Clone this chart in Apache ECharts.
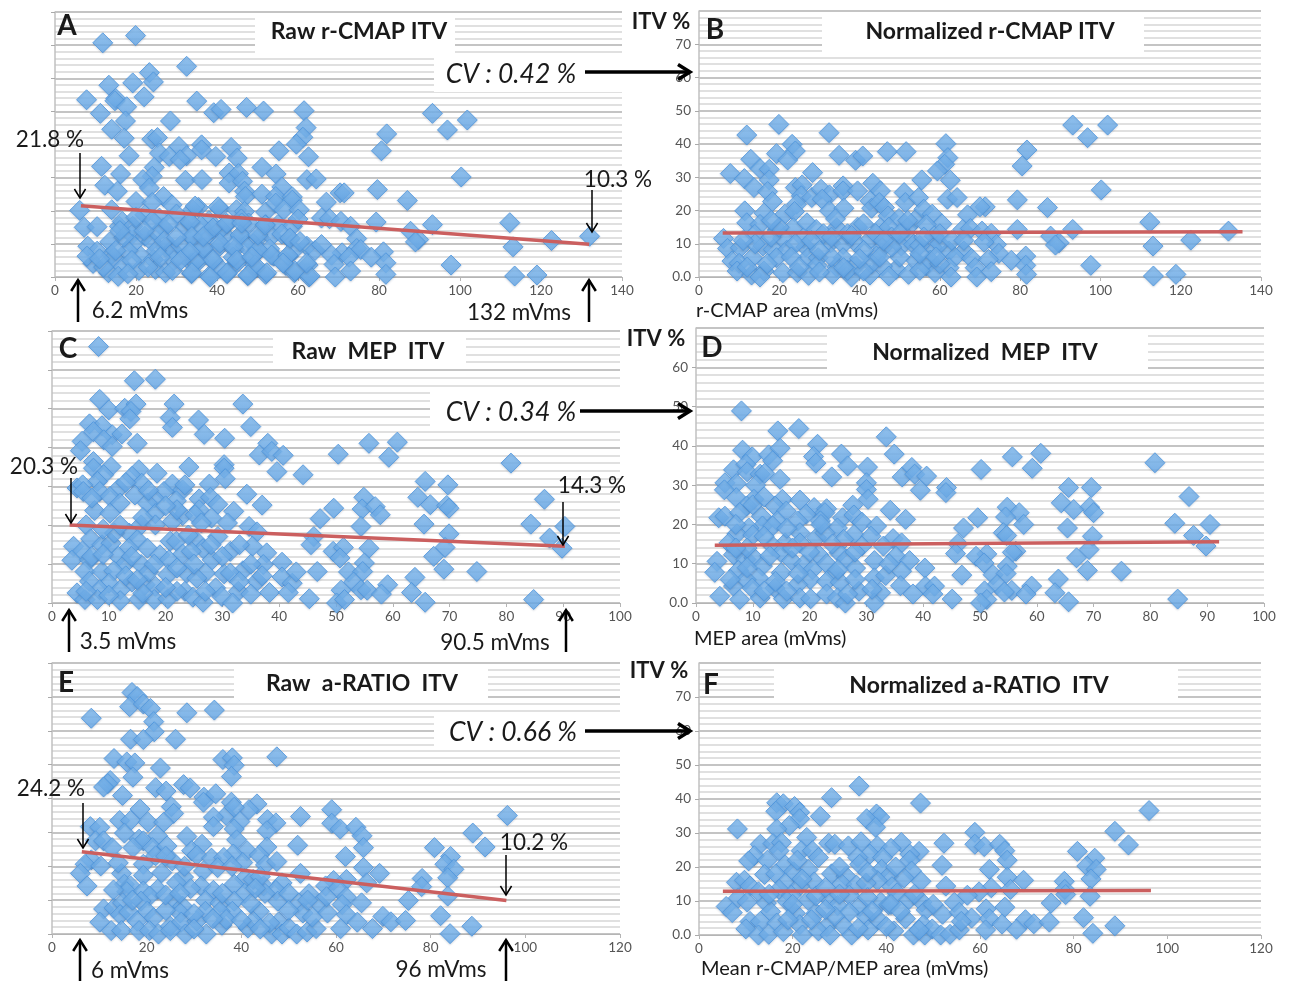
<!DOCTYPE html>
<html><head><meta charset="utf-8">
<style>html,body{margin:0;padding:0;background:#fff}#c{width:1292px;height:981px}</style>
<script src="https://cdn.jsdelivr.net/npm/echarts@6/dist/echarts.min.js"></script>
</head><body><div id="c"></div>
<script>
// Estimated values: [area (mVms), ITV %]
const pointsA=[[11.8,70.7],[19.9,72.9],[32.5,63.6],[23.3,61.7],[24.3,58.9],[19.2,58.6],[13.3,57.9],[22,54.4],[7.8,53.5],[15,53.9],[14.8,53.2],[17.7,51.4],[35,53.1],[11.2,49.4],[39.2,49.6],[41,50.6],[47.3,51.2],[51.5,50.1],[61.5,50.2],[93.2,49.4],[101.8,47.4],[96.9,44.4],[17.4,47.1],[28.5,47.1],[62,45.1],[14,44.6],[17.1,41.9],[23.9,41.6],[25.3,42.1],[61.2,42.2],[59.6,40.1],[81.9,43.2],[80.6,38.1],[30.6,39.4],[36.2,39.9],[36.2,38.4],[43.5,39.1],[55.3,38.1],[62.6,36.3],[25.8,37.4],[28.2,36.4],[32.5,36.6],[30.9,35.4],[39.7,36.4],[45,35.9],[18.3,36.6],[11.5,33.4],[24.5,33.1],[16.2,31.1],[51.1,33.1],[54.6,31.1],[43,31.4],[45.3,31.2],[24,30.4],[21.7,29.4],[32.2,29.2],[36.3,29.4],[43,28.4],[46.3,28.9],[62.2,29.4],[64.5,29.6],[100.3,30.2],[12.3,27.7],[23.3,26.9],[15.4,25.9],[56,27.2],[79.6,26.4],[46.8,25.9],[47,24.3],[51.1,25],[70.4,25.4],[71.4,25.4],[26.8,24.3],[54.5,24.3],[87,23.1],[67,22.6],[58.6,24.2],[58.6,23.2],[20,22.8],[24,22.5],[28.9,21.8],[35.4,21],[34,20.3],[40.7,20.6],[44.8,20.3],[46.8,19.8],[52,19.6],[54.5,22.3],[56.5,20.3],[60.3,20.3],[14,20.3],[6.1,20.1],[7.2,15],[10.4,15.2],[15.9,15.3],[16.6,16.8],[19.2,15.3],[22.2,18.8],[25.8,17.8],[26.8,14.8],[32,15.3],[33.5,16.3],[38.6,14.3],[42.5,16],[47.8,16.3],[52,15.8],[55,15.8],[58.6,15.3],[65.8,17.8],[67.8,17.6],[70.6,16.8],[73,15.3],[79.3,16.6],[93.2,15.8],[112.3,16.4],[13.5,10.6],[19,12.8],[22.2,12.3],[23.8,10.8],[25.3,13.3],[34,11.8],[37.3,12],[45.8,12.3],[50.4,12],[53.5,12.3],[58,11.5],[74.5,11.6],[87.8,13.8],[89.8,11.3],[89,10.6],[122.6,11],[132,12.3],[8.1,9.3],[10.4,7.8],[19.2,9.8],[27.3,9],[28.9,8.3],[36.6,8.3],[40.7,9.3],[44.3,8.3],[50.1,7.8],[54,6.3],[57.6,6.3],[62.2,9.3],[64.2,8],[65.8,9.8],[70.9,7.3],[74.5,8.6],[75.5,8.3],[81.1,7.6],[113.1,9.1],[68.3,6.6],[72.6,6],[78.1,6],[14,6.8],[21.2,6.3],[9.4,4.1],[7.9,6.3],[14.5,5.8],[16.8,3.1],[24.3,5.3],[29.4,5],[33.7,4.3],[39.1,4.8],[45,4.3],[48.4,5.8],[57,3.5],[62.5,3.6],[68.9,3.8],[81.7,4.3],[97.8,3.6],[35.5,4.8],[13.2,1.3],[15.6,0.2],[20.7,2],[24.8,2.3],[27.3,1.3],[33.7,1],[38.1,0.4],[42.5,1],[47.6,0.4],[52,0.8],[59.1,1.3],[62.7,0],[69.2,0],[73,1.8],[81.7,0.8],[113.5,0.3],[119,0.6],[49.4,2.8],[40.7,2.8],[18,8],[24,17],[31,9.5],[33,7],[38,17],[42,12.5],[46,17.5],[49,10],[53,8.5],[56,13],[60,17.5],[17,12],[30,19],[36,15.5],[44,6],[47,9.5],[41,14.5],[59,8],[34.6,21.4],[40.3,21.2],[33.3,16.7],[39,14.8],[42.4,16.2],[45.7,12.7],[33.8,12.2],[40.7,10.2],[36.6,8.7],[44,9.2],[50.1,8.2],[53.5,6.6],[57.5,6.6],[39,5.1],[34.6,4.6],[33.3,7.6],[44.9,5.1],[49.4,3.6],[42.4,1.2],[38.3,0],[33.8,1.3],[47.7,0.6],[52.3,1.3],[59.3,1.8],[63,0.3],[62.1,4.2],[58,11.8],[50.1,12.7],[60.5,10.7],[51.9,15.7],[46.1,16.3],[36.6,12.2],[48.6,6.1],[56.3,4.2],[12,3],[15,8],[19,5],[23,3],[25,8],[27,11],[29,2],[31,5],[18,1],[22,14],[26,6],[11,5.5],[16,14],[20,18],[28,16],[30,12]];
const pointsB=[[19.9,45.9],[11.9,42.7],[32.4,43.4],[23.2,39.9],[24,37.9],[19.3,37.1],[22.1,35.2],[12.9,35.4],[15.2,32.6],[17.5,32.4],[7.8,31.1],[17.5,29.2],[11.3,29.6],[28.3,31.4],[34.9,36.6],[39,35.1],[40.8,36.4],[46.9,37.7],[51.6,37.7],[61.5,40.1],[62,35.9],[61.2,33.9],[59.4,31.9],[62.6,29.1],[55.5,29.2],[93.1,45.7],[101.8,45.7],[96.8,41.9],[81.7,38.2],[80.5,33.4],[100.2,26.2],[13.7,26.9],[17.1,25.7],[18.3,22.7],[24,26.9],[25.7,27.7],[25.5,24.4],[28.1,23.9],[30.4,26.4],[32.5,24.7],[30.7,23.4],[35.9,27.4],[35.9,25.9],[39.5,25.9],[43.3,28.2],[45.2,25.9],[51.1,25.4],[51.4,22.4],[54.7,23.9],[61.9,23.4],[64.3,23.9],[79.3,23.2],[71.3,21.1],[70,21.1],[86.8,20.9],[66.9,18.7],[42.6,22.9],[43,20.7],[44.9,22.4],[46.2,20.9],[11.4,19.9],[16.2,19.2],[21.4,18.9],[24.3,21.9],[23.8,19.7],[32.5,19.9],[36.1,20.7],[47.1,18.4],[49.8,17.6],[54,17.4],[56,20.4],[58.1,18.9],[60.5,16],[11.9,16.3],[15.2,15.8],[19.5,14.3],[23.5,14.8],[26.9,16.3],[29.2,14.3],[34.3,14.8],[39.5,15],[45.2,14.8],[47.3,15],[51.9,14.8],[56.6,15.8],[65.7,14.3],[67.6,14.6],[70.5,13.8],[72.8,13.1],[79.3,14.3],[93.1,14.3],[112.3,16.5],[131.9,13.8],[6.1,11.6],[13.9,12.8],[26.1,11.6],[20.9,11.6],[32.8,10.3],[42.6,11.3],[51.9,11.8],[58.6,12.3],[122.5,11.1],[87.6,12.3],[89.7,10.3],[88.8,9.6],[74.1,9.8],[7.1,8.6],[10.3,8.8],[15.9,9.3],[18.5,8.3],[21.9,8],[26.6,9],[39,10.3],[35.9,9.8],[45.7,8.8],[50.4,9.3],[53.5,9.8],[58.1,9],[62.3,7.8],[66,7.8],[74.7,7.1],[81.4,6.3],[113.1,9.3],[63.8,6],[13.3,5.8],[19.3,5.8],[27.1,5.8],[35.9,5.8],[54,5],[57.6,5],[67.9,5.6],[72.1,5.3],[77.8,5],[8.2,4.8],[29.7,5.8],[10,4.1],[29.4,3.5],[34.3,3],[39,3.3],[44.2,6.3],[49.1,2.3],[45.7,3.3],[56.6,3.3],[62.3,2.8],[68.8,2.8],[81.4,3.5],[97.6,3.5],[20.9,1.3],[16.2,1.8],[9.5,1.8],[13.1,0.6],[15.2,0],[24.5,1.3],[27.3,0.5],[33.3,0.8],[38,0],[42.6,0.6],[47.3,0.3],[52.2,0.8],[58.8,1.3],[62.8,0],[69.2,0],[72.8,1.6],[81.6,0.8],[113.2,0.3],[118.8,0.8],[18,12],[37,13],[41,8],[48,12],[55,9.5],[31,13],[33,6],[24,10],[43,4],[60,10],[37,2],[30,1.5],[50,6],[17,4],[56,12],[14,10],[20,15],[28,11],[34,17.5],[38,12.5],[41,16],[44,13],[48,9],[52,17],[60,13],[63,11],[36,2.8],[41,1.8],[45,6],[55,2],[60,4],[66,11],[23,6],[25,3],[12,3],[11,11],[18,17],[30,8],[33,12],[40,5.5],[46,11],[50,13],[55,7],[59,6],[71,10.5]];
const pointsC=[[8.2,66],[14.5,57.2],[18.2,57.6],[8.4,52.4],[10,49.7],[12.8,50.1],[14.8,51.2],[21.5,51.2],[33.6,51.2],[13.9,49.3],[13.7,47.4],[20.8,47.7],[21.2,45.2],[25.8,47.1],[6.6,46.1],[8.8,45.6],[7.3,44.1],[10.6,43.3],[12.3,43.5],[35,45.4],[26.8,43.4],[30.4,42.4],[5.3,41.6],[5,39.2],[9.1,42],[10.6,40.3],[15,41.1],[38,41.1],[36.5,38.1],[38.7,39],[40.7,38],[55.8,41.1],[60.8,41.4],[50.4,38.3],[59.3,37.5],[80.8,36],[7.3,36.4],[10.4,35.1],[7.3,34.7],[15.3,34.3],[18.5,33.4],[14.1,32.6],[9.1,33],[8,31.3],[24.1,35],[30.3,35.6],[30.3,34.7],[39.6,33.8],[44.2,33],[30.5,32],[65.7,31.3],[69.7,30.4],[4.4,29.6],[5.4,30.4],[5.5,28.7],[8.4,28.7],[11.7,29.4],[15.8,30.8],[21.2,30.6],[23,29.1],[23.4,30.4],[27.7,30.6],[19.7,28.7],[34.3,28],[14.6,27.8],[10.2,27.4],[12,25.7],[18,27],[16.8,25.7],[21.9,26.3],[25.9,26.8],[27.9,27.2],[29.2,25.4],[37,25.2],[49.6,24.4],[54.9,27.2],[54.6,24.2],[56.9,24.8],[57.8,22.7],[64.4,27.2],[66.6,25.3],[69.5,25.1],[69.9,24.4],[86.7,26.7],[7.5,23.8],[10.2,23.1],[18.2,23],[23,22.5],[25.9,24],[32,23.6],[25.2,22.7],[28.1,21.9],[47.2,21.7],[6,20.1],[15.7,20.1],[18.2,20.1],[21.2,21],[26.3,20.6],[30.9,20.6],[34.7,19.7],[54.4,19.7],[65.5,20.3],[84.3,20.3],[90.3,19.7],[13.6,18],[36.1,18.3],[29.2,17.1],[69.9,17.8],[87.6,16.7],[46.1,17.1],[6.8,16.5],[8.8,15],[10.4,15.4],[15,16.3],[16.8,14.1],[20.8,15.9],[21.9,15.9],[25.2,16.3],[26.6,14],[3.8,14.6],[5.3,13.3],[13.5,14.1],[19,12.4],[23,12.6],[24.5,13.3],[31.4,13.3],[35.3,14.6],[37.8,12.9],[45.6,15],[49.5,13.3],[51.3,14.3],[50.7,11.6],[55.8,14.1],[69.2,14.3],[67.2,12],[89.8,14.1],[3.5,11],[6.6,11.1],[11.7,12],[12.8,10],[15.7,9.9],[20.6,11.1],[28.2,11.1],[37.2,9.9],[40.5,10.5],[55,10.3],[5.8,8.1],[8.8,8.1],[10.9,8.3],[20.4,7.3],[23.7,7.7],[27,7.7],[33.6,8.3],[30.3,7.5],[31.4,7.7],[40.5,6.7],[46.7,8.1],[52.2,8],[54.7,8.1],[74.8,8.1],[69,8.7],[63.9,6.6],[6.6,5.6],[10,5.1],[14.1,5.4],[16.4,4.7],[18.2,4.3],[25.5,6.4],[36.1,5.6],[42.3,5.1],[59.1,4.7],[53.1,5.4],[28.8,3.9],[4.4,2.6],[8.4,3.4],[12,3.4],[23.4,3],[32.8,3],[38.3,2.7],[41.6,2.7],[35,2.3],[50.9,3.3],[54.4,3.4],[55.5,3.3],[63.3,2.7],[58,2.3],[5.8,0.9],[8,0.9],[12,0.6],[15.3,0.9],[18,0.9],[20.4,1.1],[24.8,1.5],[26.6,0.2],[29.9,1.7],[31.8,0],[45.3,1.1],[50.1,0],[51.5,0.9],[65.7,0.2],[84.8,0.9],[13,7],[17,8],[7,12],[11,18],[25,10],[22,3],[16,2.5],[9,12.5],[14,12],[18,10],[22,9],[24,17.5],[28,15],[12,20],[16,22],[22,24],[9,19],[7,27],[13,31],[17,29],[20,25],[30,12],[33,15],[35,10],[37,7],[43,8],[27,3],[20,4],[10,2],[15,6],[6,3],[33,5.5]];
const pointsD=[[8,48.9],[14.4,43.8],[18.1,44.4],[21.4,40.4],[33.5,42.3],[8.2,38.9],[9.9,37.2],[12.8,37.7],[14.8,39.4],[13.5,36.2],[20.7,37.3],[21.1,35.6],[25.6,37.9],[26.7,34.9],[34.9,37.9],[6.6,33.9],[8.8,35.3],[9,33.4],[11.3,32.8],[12.1,33],[30.2,34.6],[23.9,32.1],[14.8,31.5],[5.1,30.6],[7.1,30.4],[5,28.8],[10.5,30],[30,30.6],[30,28.9],[30.3,26.4],[36.3,32.1],[38,34.5],[38.5,32.8],[40.6,32.3],[39.5,28.7],[44.1,29.4],[44,28.1],[50.2,34],[55.7,37.2],[60.7,38.1],[59.2,34.3],[80.8,35.7],[65.6,29.4],[69.6,29.4],[86.8,27.1],[7.1,26.8],[10.2,26.4],[15.2,26.4],[18.3,26.2],[8.9,24.7],[13.9,24.7],[20.8,24.3],[23,24],[27.6,24.9],[64.3,25.5],[54.8,24.4],[69.3,24.4],[66.5,23.8],[70,23],[56.9,23],[34.2,23.6],[15.9,23.4],[4,21.7],[5.1,22.1],[7.7,23],[11.5,22.1],[19.4,22.6],[22.7,23],[25.8,21.7],[27.8,22.4],[36.9,21.3],[49.6,21.7],[54.5,21.9],[57.7,20],[29.2,20.6],[17.9,20.9],[21.9,20.9],[11.7,19.6],[9.3,19.1],[14.3,20.9],[13.5,19.6],[24.9,19.1],[31.8,19.6],[47.1,19.1],[65.4,19.1],[84.3,20.3],[90.5,20],[7.2,17.6],[10,17.3],[18.3,17.9],[21.2,16.6],[22.7,17.9],[27.8,17.4],[30.8,17],[34.7,16.4],[54.1,17.9],[54.7,17.2],[69.8,17],[87.6,17.2],[26,16.2],[5.8,15.3],[15.7,15.3],[18.3,15.3],[13.5,14.5],[36.2,15.3],[46.1,15.1],[29.2,14.5],[89.8,14.5],[6.6,12.3],[15,12.8],[21.6,12.3],[25.2,12.8],[35.2,11.9],[45.7,12.6],[51.2,12.5],[56.3,13.2],[55.7,12.9],[69.2,13.6],[67,11.5],[49.3,11.9],[3.7,10.6],[8.8,11.1],[10.2,11.5],[16.8,10.8],[19,9.8],[11.7,9.4],[23,10],[26.5,11.2],[31.4,10.8],[37.6,10.8],[50.7,10.2],[54.8,9.4],[40.3,8.9],[28.1,8.9],[3.3,7.8],[7.5,8.3],[11,6.4],[15,7.7],[20.5,8.5],[24.5,7.7],[36.2,8.1],[31.4,6.4],[33.4,7],[46.8,7.1],[52.3,7.2],[54.6,7.5],[74.9,8.1],[68.9,8.3],[63.8,6.1],[20.1,6],[6.6,4.3],[8.8,6],[9.9,3.8],[13.9,3.8],[17.9,4.7],[23,5.5],[25.4,5.3],[28.7,3],[36,4.4],[40.4,4.3],[42,4.3],[59.1,4.3],[53,4.7],[55.6,3.2],[54.3,2.8],[4.2,1.7],[7.7,0.9],[11.3,1.3],[15.4,1.1],[18.3,1.3],[20.2,1.1],[23,2.3],[24.9,1.3],[26.3,0],[26.7,2.3],[32.5,2.6],[31.4,0],[38.2,2.3],[41.7,2.3],[45.1,1],[50.8,3.1],[51.2,0.9],[50.1,0],[58.1,2.3],[63.2,2.6],[65.6,0.3],[84.8,1],[13,12],[17,14],[9,14],[24,15],[28,13],[33,14.5],[12,17],[16,19],[7,20],[22,20],[9,9],[14,5.5],[18,7.5],[28,6],[31,3.5],[34,10],[12,3],[16,3],[20,13],[25,8.5],[6,6],[7,14],[10,25],[12,27]];
const pointsE=[[16.9,71.3],[18,70.1],[16.4,67.1],[19.3,67.9],[20.8,66.6],[8.3,63.7],[28.5,65.3],[34.3,66.1],[21.5,62.7],[21.6,59.7],[16.6,57.5],[19.3,57.4],[26.1,57.5],[13.1,51.8],[15.8,50.8],[17.5,50.5],[22.9,49],[17.1,46.3],[36.1,51.5],[38.1,52],[38.5,49.8],[37.9,46.5],[47.5,52.3],[12.3,45.3],[11.8,44.4],[10.9,43.4],[21.9,43.2],[24.1,42.2],[27.8,44.1],[29.2,43.1],[14.9,40.9],[32.1,40.4],[34.6,41.4],[32,38.9],[37.9,38.9],[43.3,38.4],[18.6,36.9],[25.2,37.6],[25.7,35.6],[41.6,36.7],[36.8,35],[38.5,37.4],[59.1,36.7],[52.5,34.7],[96.2,35],[14.3,33.5],[16.6,33.5],[20.3,33],[23.6,33],[34.1,34.5],[34.1,31.7],[39.7,33.2],[45.5,33.8],[47.3,32.8],[59.1,32.7],[60.9,31],[64.2,31.5],[65.5,29],[8.1,31.7],[10.1,31.5],[15.3,29.8],[38.5,31],[45.4,30.5],[22.3,29],[28.5,28.8],[9.2,27.5],[10.9,27.5],[18.4,28],[19.3,27.5],[39,27.8],[88.9,29.8],[12.7,25.5],[17.1,25.5],[21.2,25.5],[24.3,26],[31.7,26.5],[51.9,26.2],[45.4,25.7],[65.8,25.5],[80.8,25.5],[91.5,25.7],[41.2,24.6],[29.5,24.6],[30.6,23.3],[38.3,23.6],[33.7,22.4],[43.8,23.3],[62,22.9],[84.2,22.9],[8.3,21.9],[7,20.6],[10.3,20.1],[6,17.9],[21.9,23.1],[19.3,20.6],[25.4,21.6],[36.3,22.6],[40.3,21.1],[45.1,20.4],[47.5,21.4],[83,20.6],[65.8,19.6],[84.9,19.1],[32,18.6],[23.2,18.1],[35,19.6],[14.7,17.9],[19.3,17.3],[27.8,16.8],[52.5,17.9],[69.2,17.9],[62.2,16.1],[59.5,15.8],[78.2,16.4],[83.6,16.6],[26.3,15.1],[40.7,16.4],[42.5,16.1],[48.6,15.1],[66.5,15.1],[78.1,14],[57.8,14.2],[60.4,13.4],[7.4,14.2],[15.3,14.7],[16.6,14.2],[38.5,14.7],[44.7,14.2],[31.5,14.2],[22.3,13.2],[15.8,12.5],[19.3,12.7],[29.3,13.4],[34.1,12.9],[40.7,12],[47.3,12.9],[54.3,11.9],[83.6,11.2],[75.3,9.9],[62.2,10.9],[20.6,11.2],[10.9,7.4],[13.1,7.7],[14.9,9.2],[18.8,9.7],[25.8,10.2],[32.4,9.9],[35.5,9.2],[38.5,9.7],[47.7,9.7],[52.1,9.2],[56.5,8.9],[61.3,8.7],[65.4,9.2],[27.6,8.2],[14.4,5.7],[20.1,6.7],[16.2,6.5],[43.8,6.7],[38.1,6.7],[35.5,6.7],[53,6.2],[58.2,6.2],[62.2,5.7],[82.1,5.4],[21.5,4.8],[27.1,6.2],[32.4,6.7],[10.1,3.5],[12.5,1],[14.7,1],[18,3.8],[18.4,1],[20.6,1],[22.5,0],[25,2.3],[27.3,3.5],[28.2,0],[30.6,3.8],[32.6,0],[35.9,2.6],[36.8,4.3],[41.4,1.8],[42.5,3.8],[46.4,0],[47.9,3.6],[48.6,0],[50.1,1.8],[51.7,0],[53.9,0.6],[55.8,1.6],[61,1.6],[64.5,3.5],[67.7,1.6],[69.9,5.2],[71.6,3.6],[74.7,4],[84.1,0.1],[88.7,2.3],[46,3.3],[24,7],[30,6],[34,4.5],[42,9],[45,12],[50,12],[36,12],[24,11.5],[17,10],[13,13],[27,12],[44,17],[38,20],[28,20],[24,23],[14,21],[50,7],[55,5],[25,1],[30,1.5],[40,4],[44,1.5],[54,10],[58,11],[43,13.5]];
const pointsF=[[34.2,43.8],[28.3,40.4],[47.3,38.8],[16.6,38.9],[18,38.6],[20.4,37.8],[21.5,36.1],[16.4,36.4],[25.9,34.9],[96.1,36.6],[37.9,35.6],[38.6,34.7],[35.8,34.2],[21.5,34.2],[19.3,32.2],[16.6,31.2],[37.7,31.7],[8.2,31.2],[58.9,30.2],[88.8,30.5],[23,28.7],[13.1,26.7],[15.8,26.9],[17.6,27.2],[27.7,27],[29,26.7],[31.9,26.2],[34.6,27.4],[43.2,27.2],[38.1,26.2],[41,25.5],[52.3,27],[58.9,26.7],[60.9,26],[64.2,26.7],[65.3,24.8],[91.7,26.5],[80.8,24.6],[47,24.6],[45,23.8],[17.1,24.8],[21.8,24.8],[24.2,24.8],[36.5,23.8],[25.5,22.8],[11.8,23.3],[10.6,21.8],[14.6,22],[45,22],[65.8,22],[33.9,22.8],[39.2,22.8],[84.5,22.6],[18.4,20.6],[23.3,19.3],[34.3,20.8],[51.9,20.5],[62,19.3],[82.8,20.3],[84.8,19.3],[20.2,18.6],[28.3,18],[39,19.3],[45.4,18.8],[14,17.8],[16.4,18],[31.4,17.3],[40.5,17.3],[43.8,16.8],[65.8,17],[69.3,16.1],[78,15.8],[83.7,16.5],[47.4,15.8],[38.1,16],[8,15.5],[9.7,16.1],[10.9,14.4],[18.4,15.3],[24.6,15.6],[21.5,14.4],[30.5,15],[33.6,14.7],[35.7,15.3],[41.2,14.2],[52.7,14.4],[62.4,13.9],[59.8,12.7],[66.5,13.4],[78.1,13.4],[57.3,11.7],[12.7,12.7],[17.1,13.4],[42.3,12.4],[78.3,11.9],[83.5,11.4],[19.7,11.7],[8.4,10.9],[10.3,9.7],[14.4,9.4],[18.8,9.9],[23.3,10.2],[27.7,10.6],[32.1,11.7],[38.8,9.7],[44.8,10.4],[47.6,9.7],[54.5,9.6],[65.3,8.2],[75.2,9.4],[5.8,8.4],[7.1,6.6],[29.6,8.7],[34.3,8.4],[40.5,8.9],[48.5,7.4],[61.3,7.7],[15.3,6.9],[20.6,6.4],[25,6.4],[32.1,6.7],[52,6.1],[55.6,6.7],[35.7,5.4],[82.1,5.1],[10.9,4],[13.1,4],[10,1.8],[16.6,3.5],[21.5,3],[27.3,2.5],[30.8,2.8],[38.3,4.5],[44.1,4.8],[47.9,3],[58.2,5],[62,4.8],[64.7,3.2],[69.7,4.5],[71.5,3.3],[74.8,3.8],[88.8,2.7],[12.7,0],[14.9,0.2],[18,1],[22.1,0],[25.5,1.2],[28,0],[32.6,0],[36.1,1.5],[41.6,1.2],[45.8,0],[48.2,0],[49.8,1.8],[51.6,0],[53.6,0.2],[55.6,1.5],[61.2,1.5],[67.8,1.7],[84.1,0.5],[15,12],[20,9],[25,11.5],[30,12],[36,11],[41,9],[46,12],[50,9],[24,4.5],[29,5.5],[34,2],[40,2.5],[19,4.5],[27,7.5],[37,7],[43,7],[47,1.5],[56,4],[22,16.5],[27,14],[36,18.5],[42,20],[30,20],[21,22]];
const trendA=[[6.4,21.5],[131.9,9.9]];
const trendB=[[5.9,13.2],[135.4,13.6]];
const trendC=[[3.1,20.05],[90.3,14.6]];
const trendD=[[3.3,14.7],[92.1,15.6]];
const trendE=[[6.3,24.3],[96,9.9]];
const trendF=[[5.1,12.9],[96.5,13.1]];

const FONT='Lato, "Open Sans", sans-serif';
const panels=[
 {d:pointsA,t:trendA,g:[55,12,567,265],xMax:140,xInt:20,yMax:80,yL:false},
 {d:pointsB,t:trendB,g:[699,11,562,266],xMax:140,xInt:20,yMax:80,yL:true},
 {d:pointsC,t:trendC,g:[52,331,568,272],xMax:100,xInt:10,yMax:70,yL:false},
 {d:pointsD,t:trendD,g:[696,328,568,275],xMax:100,xInt:10,yMax:70,yL:true},
 {d:pointsE,t:trendE,g:[52,663,568,271],xMax:120,xInt:20,yMax:80,yL:false},
 {d:pointsF,t:trendF,g:[699,663,562,272],xMax:120,xInt:20,yMax:80,yL:true}
];
const whiteBoxes=[[255,14,200,41],[434,55,190,37],[822,14,322,41],[273,334,193,33],[430,392,192,35],[827,332,321,39],[234,665,254,37],[434,715,188,32],[774,665,404,37]];
const boldText=[["A",67,25,28],["B",715,29,28],["C",68,348,28],["D",712,347,28],["E",66,682,28],["F",711,684,28],
 ["Raw r-CMAP ITV",359,31,23],["Normalized r-CMAP ITV",990,31,23],["Raw  MEP  ITV",368,351,23],["Normalized  MEP  ITV",985,352,23],["Raw  a-RATIO  ITV",362,683,23],["Normalized a-RATIO  ITV",979,685,23],
 ["ITV %",661,21,22],["ITV %",656,338,22],["ITV %",659,670,22]];
const cvText=[["CV : 0.42 %",511,73],["CV : 0.34 %",511,411],["CV : 0.66 %",513,731]];
const noteText=[["21.8 %",50,139],["10.3 %",618,179],["6.2 mVms",140,310],["132 mVms",519,312],["20.3 %",44,466],["14.3 %",592,485],["3.5 mVms",128,641],["90.5 mVms",495,642],["24.2 %",51,788],["10.2 %",534,842],["6 mVms",130,970],["96 mVms",441,969]];
const axisText=[["r-CMAP area (mVms)",696,310],["MEP area (mVms)",694,638],["Mean r-CMAP/MEP area (mVms)",701,968]];
const thinArrows=[[80,153,80,198],[592,190,592,232],[71,478,71,523],[563,502,563,545],[83,803,83,848],[506,855,506,895]];
const upArrows=[[78,322,78,280],[589,322,589,280],[69,652,69,610],[566,652,566,610],[80,981,80,940],[506,981,506,940]];
const cvArrows=[[585,72,690,72],[580,411,690,411],[585,731,690,731]];

function arrow(a,w,h){
  const [x1,y1,x2,y2]=a, L=Math.hypot(x2-x1,y2-y1), ux=(x2-x1)/L, uy=(y2-y1)/L;
  const st={stroke:'#000',lineWidth:w,fill:null};
  return [{type:'line',z:5,shape:{x1,y1,x2,y2},style:st},
   {type:'polyline',z:5,shape:{points:[[x2-ux*h-uy*h*0.62,y2-uy*h+ux*h*0.62],[x2,y2],[x2-ux*h+uy*h*0.62,y2-uy*h-ux*h*0.62]]},style:st}];
}
const graphic=[];
whiteBoxes.forEach(b=>graphic.push({type:'rect',z:1,shape:{x:b[0],y:b[1],width:b[2],height:b[3]},style:{fill:'#fff'}}));
const txt=(t,x,y,font,align)=>({type:'text',z:6,x,y:y+1,style:{text:t,font,fill:'#1a1a1a',textAlign:align||'center',textVerticalAlign:'middle'}});
boldText.forEach(t=>graphic.push(txt(t[0],t[1],t[2],'bold '+t[3]+'px '+FONT)));
cvText.forEach(t=>graphic.push(txt(t[0],t[1],t[2],'italic 26.5px '+FONT)));
noteText.forEach(t=>graphic.push(txt(t[0],t[1],t[2],'22.5px '+FONT)));
axisText.forEach(t=>graphic.push(txt(t[0],t[1],t[2],'20px '+FONT,'left')));
thinArrows.forEach(a=>graphic.push(...arrow(a,1.5,9)));
upArrows.forEach(a=>graphic.push(...arrow(a,2.5,11)));
cvArrows.forEach(a=>graphic.push(...arrow(a,3.5,12)));

const grid=[],xAxis=[],yAxis=[],series=[];
panels.forEach((p,i)=>{
  grid.push({left:p.g[0],top:p.g[1],width:p.g[2],height:p.g[3]});
  xAxis.push({gridIndex:i,type:'value',min:0,max:p.xMax,interval:p.xInt,splitLine:{show:false},
    axisLine:{lineStyle:{color:'#b5b5b5'}},axisTick:{length:4,lineStyle:{color:'#b5b5b5'}},
    axisLabel:{color:'#555',fontSize:13.5,fontFamily:FONT,margin:7}});
  yAxis.push({gridIndex:i,type:'value',min:0,max:p.yMax,interval:10,
    axisLine:{show:true,lineStyle:{color:'#c0c0c0',width:1.5}},axisTick:{show:true,length:4,lineStyle:{color:'#aaa'}},
    splitLine:{show:true,lineStyle:{color:'#b0b0b0',width:1.5}},
    minorSplitLine:{show:true,lineStyle:{color:'#d6d6d6',width:1.5}},minorTick:{show:false,splitNumber:5},
    axisLabel:{show:p.yL,color:'#555',fontSize:13.5,fontFamily:FONT,margin:8,showMaxLabel:false,formatter:v=>v===0?'0.0':String(v)}});
  series.push({type:'scatter',xAxisIndex:i,yAxisIndex:i,data:p.d,symbol:'diamond',symbolSize:20,clip:false,
    itemStyle:{color:new echarts.graphic.LinearGradient(0,0,0,1,[{offset:0,color:'#7fbaf0'},{offset:1,color:'#62a5e6'}]),
      borderColor:'#4b95de',borderWidth:1,shadowColor:'rgba(70,90,120,.25)',shadowBlur:2,shadowOffsetY:1},z:3});
  series.push({type:'line',xAxisIndex:i,yAxisIndex:i,data:p.t,symbol:'none',silent:true,z:4,
    lineStyle:{color:'#cb5f5f',width:3.5}});
});
const chart=echarts.init(document.getElementById('c'),null,{renderer:'canvas'});
chart.setOption({animation:false,backgroundColor:'#fff',grid,xAxis,yAxis,series,graphic});
</script></body></html>
